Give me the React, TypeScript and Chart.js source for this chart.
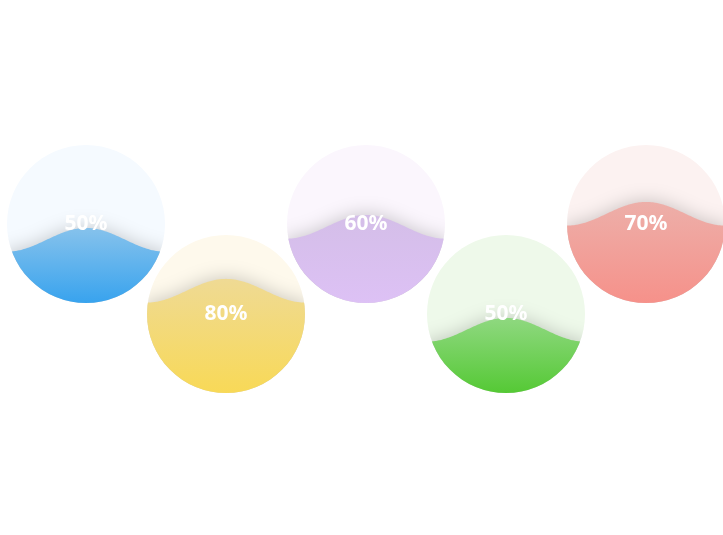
import React, { useEffect, useRef } from "react";
import { Chart, registerables } from "chart.js";

Chart.register(...registerables);

const labels = ["50%", "80%", "60%", "50%", "70%"];
const values = [0.5, 0.8, 0.6, 0.5, 0.7];
const bgColors = ["#F5FAFF", "#FEF9EC", "#FBF6FD", "#EEF9EA", "#FCF2F1"];
const waveTop = ["#86C2EC", "#EFDA94", "#D4BEE8", "#8FD880", "#EDAFA9"];
const waveBottom = ["#38A3EE", "#F8D957", "#DDC1F5", "#55C935", "#F6918A"];

const liquidPlugin = {
  id: "liquid",
  afterDatasetsDraw(chart: any) {
    const ctx = chart.ctx as CanvasRenderingContext2D;
    const meta = chart.getDatasetMeta(0);
    meta.data.forEach((pt: any, i: number) => {
      const cx = pt.x;
      const cy = pt.y;
      const R = pt.options.radius;
      const A = R * 0.15;
      const level = cy + R + 2 - values[i] * R * 1.65;
      ctx.save();
      ctx.beginPath();
      ctx.arc(cx, cy, R, 0, Math.PI * 2);
      ctx.clip();
      ctx.beginPath();
      const lambda = 2 * R;
      ctx.moveTo(cx - R - 2, cy + R + 4);
      for (let x = cx - R - 2; x <= cx + R + 2; x += 1) {
        const y = level - A * Math.cos((2 * Math.PI * (x - cx)) / lambda);
        ctx.lineTo(x, y);
      }
      ctx.lineTo(cx + R + 2, cy + R + 4);
      ctx.closePath();
      const g = ctx.createLinearGradient(0, level - A, 0, cy + R);
      g.addColorStop(0, waveTop[i]);
      g.addColorStop(1, waveBottom[i]);
      ctx.fillStyle = g;
      ctx.shadowColor = "rgba(0,0,0,0.2)";
      ctx.shadowBlur = 18;
      ctx.shadowOffsetY = -1;
      ctx.fill();
      ctx.restore();

      ctx.save();
      ctx.fillStyle = "#FFFFFF";
      ctx.font = 'bold 21px "Noto Sans", "DejaVu Sans", sans-serif';
      ctx.textAlign = "center";
      ctx.textBaseline = "middle";
      ctx.fillText(labels[i], cx, cy);
      ctx.restore();
    });
  },
};

export default function App() {
  const ref = useRef<HTMLCanvasElement>(null);
  useEffect(() => {
    if (!ref.current) return;
    const chart = new Chart(ref.current, {
      type: "scatter",
      data: {
        datasets: [
          {
            data: values.map((_, i) => ({ x: i, y: i % 2 })),
            pointRadius: 79,
            pointHoverRadius: 79,
            pointBackgroundColor: bgColors,
            pointBorderWidth: 0,
            pointBorderColor: "rgba(0,0,0,0)",
            clip: false,
          } as any,
        ],
      },
      options: {
        responsive: false,
        animation: false,
        events: [],
        layout: { padding: 0, autoPadding: false } as any,
        plugins: { legend: { display: false }, tooltip: { enabled: false } },
        scales: {
          x: { type: "linear", display: false, min: -86 / 140, max: 4 + 77 / 140 },
          y: { type: "linear", display: false, reverse: true, min: -224 / 90, max: 311 / 90 },
        },
      },
      plugins: [liquidPlugin],
    });
    return () => chart.destroy();
  }, []);
  return (
    <div style={{ position: "absolute", left: 0, top: 0, width: 723, height: 535, background: "#fff" }}>
      <canvas ref={ref} width={723} height={535} style={{ width: 723, height: 535 }} />
    </div>
  );
}
